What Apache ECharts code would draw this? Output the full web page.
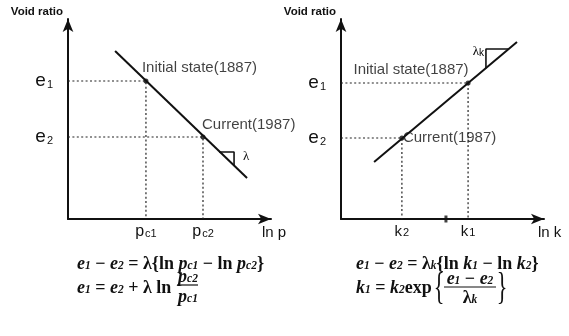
<!DOCTYPE html>
<html>
<head>
<meta charset="utf-8">
<script src="https://cdn.jsdelivr.net/npm/echarts@6/dist/echarts.min.js"></script>
<style>
  html, body { margin: 0; padding: 0; background: #fff; }
  #chart { width: 569px; height: 336px; }
</style>
</head>
<body>
<div id="chart"></div>
<script>
// ---- left panel: void ratio vs ln p (normal compression line) ----
const pLine = [[2.32, 8.4], [8.82, 2.05]];          // ends of the e - ln p line
const pStates = [[3.84, 6.9], [6.65, 4.1]];         // [ln p, e] for 1887 and 1987
const pSlope = [[7.44, 3.35], [8.18, 3.35], [8.18, 2.68]]; // slope triangle (lambda)
const pTickNames = ['c1', 'c2'];                    // subscripts of p on the x axis

// ---- right panel: void ratio vs ln k (permeability line) ----
const kLine = [[1.63, 2.85], [8.67, 8.85]];
const kStates = [[6.26, 6.8], [3.0, 4.05]];         // [ln k, e] for 1887 and 1987
const kSlope = [[7.14, 7.54], [7.14, 8.5], [8.26, 8.5]]; // slope triangle (lambda_k)
const kTickNames = ['1', '2'];                      // subscripts of k on the x axis
const kMark = [5.17];                               // small mark on the ln k axis

const stateNames = ['Initial state(1887)', 'Current(1987)'];
const eTickNames = ['1', '2'];                      // subscripts of e on the y axis

const SANS = 'Liberation Sans, Arial, sans-serif';
const SERIF = 'Liberation Serif, Times New Roman, serif';
const INK = '#111';

function pickName(v, values, names) {
  for (let i = 0; i < values.length; i++) {
    if (Math.abs(v - values[i]) < 1e-6) return names[i];
  }
  return '';
}

function makeAxes(grid, xName, xNameGap, xVals, xNames, xLetter, yVals) {
  const axisLine = {
    show: true,
    symbol: ['none', 'arrow'],
    symbolSize: [8, 13],
    lineStyle: { color: INK, width: 2 }
  };
  const x = {
    gridIndex: grid, type: 'value', min: 0, max: 10,
    splitLine: { show: false }, axisTick: { show: false },
    axisLine: axisLine,
    axisLabel: {
      customValues: xVals, margin: 5, color: INK,
      formatter: v => '{m|' + xLetter + '}{s|' + pickName(v, xVals, xNames) + '}',
      rich: {
        m: { fontSize: 16, fontFamily: SANS, color: INK },
        s: { fontSize: 11, fontFamily: SANS, color: INK, verticalAlign: 'bottom', padding: [0, 0, 1, 1] }
      }
    },
    name: xName, nameLocation: 'end', nameGap: xNameGap,
    nameTextStyle: {
      fontSize: 15, fontFamily: SANS, color: INK,
      align: 'left', verticalAlign: 'top', padding: [6, 0, 0, 0]
    }
  };
  const y = {
    gridIndex: grid, type: 'value', min: 0, max: 10,
    splitLine: { show: false }, axisTick: { show: false },
    axisLine: axisLine,
    axisLabel: {
      customValues: yVals, margin: 15, color: INK,
      formatter: v => '{m|e}{s|' + pickName(v, yVals, eTickNames) + '}',
      rich: {
        m: { fontSize: 19, fontFamily: SANS, color: INK },
        s: { fontSize: 11, fontFamily: SANS, color: INK, verticalAlign: 'bottom', padding: [0, 0, 0, 1] }
      }
    },
    name: 'Void ratio', nameLocation: 'end', nameGap: 7,
    nameTextStyle: {
      fontSize: 11.5, fontWeight: 'bold', fontFamily: SANS, color: INK,
      align: 'right', verticalAlign: 'middle', padding: [0, 5, 0, 0]
    }
  };
  return { x, y };
}

function panelSeries(grid, line, states, slope, labelCfg) {
  const dotted = { color: '#222', width: 1.2, type: [2, 2.4] };
  const base = { xAxisIndex: grid, yAxisIndex: grid, silent: true, animation: false };
  const out = [];
  states.forEach((s) => {
    out.push(Object.assign({}, base, {
      type: 'line', symbol: 'none', z: 1,
      data: [[0, s[1]], s, [s[0], 0]],
      lineStyle: dotted
    }));
  });
  out.push(Object.assign({}, base, {
    type: 'line', symbol: 'none', z: 3, data: line,
    lineStyle: { color: INK, width: 2 }
  }));
  out.push(Object.assign({}, base, {
    type: 'line', symbol: 'none', z: 3, data: slope,
    lineStyle: { color: INK, width: 1.6 }
  }));
  out.push(Object.assign({}, base, {
    type: 'scatter', symbol: 'circle', symbolSize: 5, z: 4, clip: false,
    itemStyle: { color: INK },
    data: states.map((s, i) => ({
      value: s,
      label: Object.assign({
        show: true, formatter: stateNames[i],
        fontSize: 15, fontFamily: SANS, color: INK, verticalAlign: 'middle'
      }, labelCfg[i])
    }))
  }));
  return out;
}

const left = makeAxes(0, 'ln p', -9, [pStates[0][0], pStates[1][0]], pTickNames, 'p',
                      [pStates[0][1], pStates[1][1]]);
const right = makeAxes(1, 'ln k', -6, [kStates[0][0], kStates[1][0]], kTickNames, 'k',
                       [kStates[0][1], kStates[1][1]]);
right.x.axisLabel.rich.m.fontSize = 15;

const series = []
  .concat(panelSeries(0, pLine, pStates, pSlope, [
    { position: [-1.5, -10.5], align: 'left' },
    { position: [1.5, -9.5], align: 'left' }
  ]))
  .concat(panelSeries(1, kLine, kStates, kSlope, [
    { position: [3, -10.5], align: 'right' },
    { position: [3.5, 2.5], align: 'left' }
  ]));
series.push({
  type: 'scatter', xAxisIndex: 1, yAxisIndex: 1, silent: true, animation: false,
  symbol: 'rect', symbolSize: [3, 7], clip: false, z: 5,
  itemStyle: { color: INK },
  data: kMark.map(v => [v, 0])
});

// formula typography
const fRich = {
  v: { fontSize: 18, fontFamily: SERIF, fontStyle: 'italic', fontWeight: 'bold', color: INK },
  o: { fontSize: 18, fontFamily: SERIF, fontWeight: 'bold', color: INK },
  s: { fontSize: 11.5, fontFamily: SERIF, fontStyle: 'italic', fontWeight: 'bold', color: INK,
       verticalAlign: 'bottom', padding: [0, 0, 1, 0] }
};
function ftext(x, y, text, align) {
  return {
    type: 'text', x: x, y: y, silent: true,
    style: {
      text: text, rich: fRich, fill: INK,
      fontSize: 18, fontWeight: 'bold', fontFamily: SERIF,
      align: align || 'left', verticalAlign: 'middle'
    }
  };
}
function fline(x1, x2, y) {
  return { type: 'line', silent: true, shape: { x1: x1, y1: y, x2: x2, y2: y },
           style: { stroke: INK, lineWidth: 1.2 } };
}
function brace(x, y, ch) {
  return {
    type: 'text', x: x, y: y, scaleX: 0.6, silent: true,
    style: { text: ch, fontSize: 37, fontFamily: SERIF, fill: INK, align: 'center', verticalAlign: 'middle' }
  };
}

const graphic = [
  // lambda beside the left slope triangle
  { type: 'text', x: 243, y: 157, silent: true,
    style: { text: 'λ', fontSize: 13, fontFamily: SERIF, fill: INK, align: 'left', verticalAlign: 'middle' } },
  // lambda_k beside the right slope triangle
  { type: 'text', x: 484, y: 52, silent: true,
    style: { text: '{a|λ}{b|k}', align: 'right', verticalAlign: 'middle',
             rich: { a: { fontSize: 13, fontFamily: SERIF, color: INK },
                     b: { fontSize: 10, fontFamily: SANS, color: INK, verticalAlign: 'bottom' } } } },

  // left formulas
  ftext(77, 264, '{v|e}{s|1}{o| − }{v|e}{s|2}{o| = λ{ln }{v|p}{s|c1}{o| − ln }{v|p}{s|c2}}'),
  ftext(77, 288, '{v|e}{s|1}{o| = }{v|e}{s|2}{o| + λ ln}'),
  ftext(188, 277, '{v|p}{s|c2}', 'center'),
  fline(177, 198, 285),
  ftext(188, 297, '{v|p}{s|c1}', 'center'),

  // right formulas
  ftext(356, 264, '{v|e}{s|1}{o| − }{v|e}{s|2}{o| = λ}{s|k}{o|{ln }{v|k}{s|1}{o| − ln }{v|k}{s|2}}'),
  ftext(356, 288, '{v|k}{s|1}{o| = }{v|k}{s|2}{o|exp}'),
  brace(439, 289, '{'),
  ftext(470, 279, '{v|e}{s|1}{o| − }{v|e}{s|2}', 'center'),
  fline(444, 496, 287),
  ftext(470, 298, '{o|λ}{s|k}', 'center'),
  brace(502, 289, '}')
];

const chart = echarts.init(document.getElementById('chart'), null, { renderer: 'canvas' });
chart.setOption({
  animation: false,
  backgroundColor: '#fff',
  grid: [
    { left: 68, top: 19, width: 203, height: 200, containLabel: false },
    { left: 341, top: 19, width: 203, height: 200, containLabel: false }
  ],
  xAxis: [left.x, right.x],
  yAxis: [left.y, right.y],
  series: series,
  graphic: graphic
});
</script>
</body>
</html>
